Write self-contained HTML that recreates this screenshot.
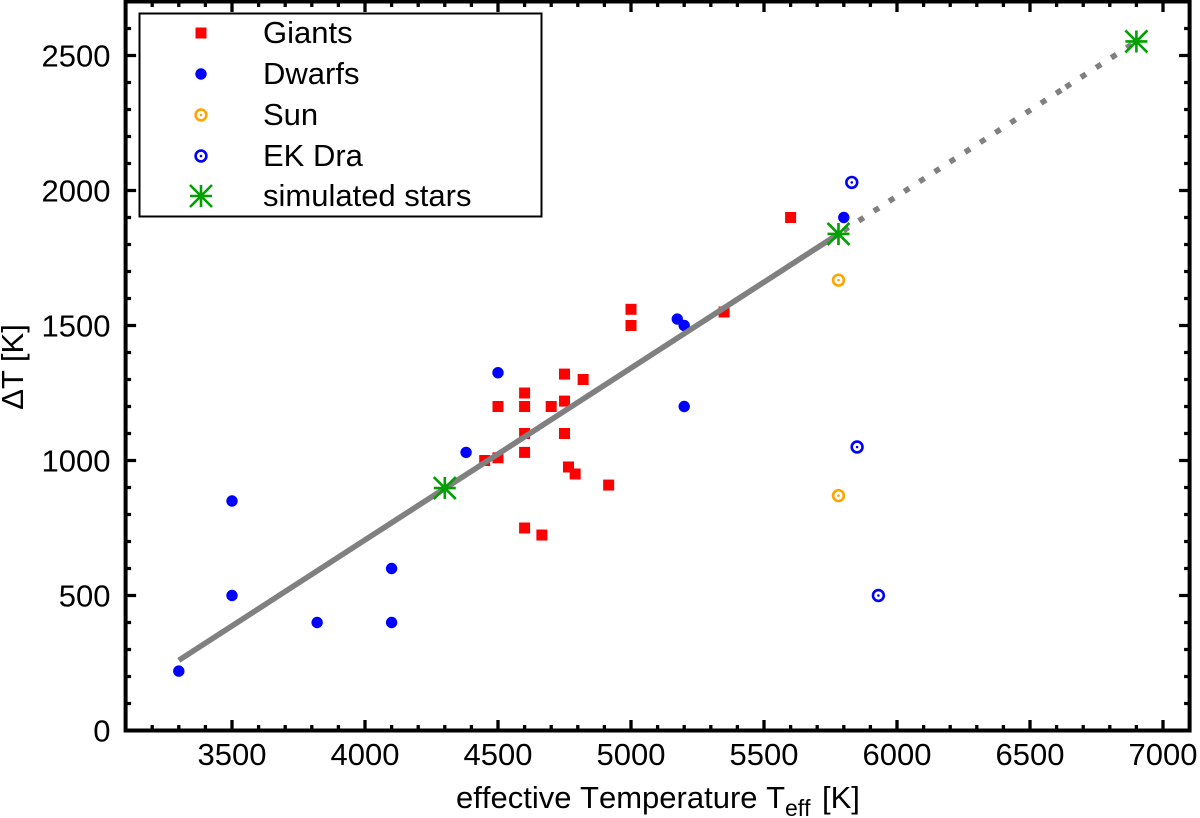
<!DOCTYPE html>
<html lang="en">
<head>
<meta charset="utf-8">
<title>Delta T vs effective temperature</title>
<style>
html,body{margin:0;padding:0;background:#fff}
svg{display:block}
text{font-family:"Liberation Sans",sans-serif;fill:#000;font-size:31px}
</style>
</head>
<body>
<svg id="chart" xmlns="http://www.w3.org/2000/svg" width="1200" height="818" viewBox="0 0 1200 818">
  <g id="ticks"></g>
  <g id="tick-labels"></g>
  <g id="marks"></g>
  <rect x="125.6" y="1.5" width="1064" height="729" fill="none" stroke="#000" stroke-width="4"/>
  <text x="456" y="808" style="font-kerning:none">effective Temperature T<tspan x="785" dy="8" style="font-size:23px">eff</tspan><tspan x="822" dy="-8">[K]</tspan></text>
  <text transform="translate(23,367) rotate(-90)" text-anchor="middle">ΔT [K]</text>
  <g>
    <rect x="139.5" y="13.5" width="402" height="203" fill="#fff" stroke="#000" stroke-width="2"/>
    <rect x="195.5" y="27.5" width="11" height="11" fill="#ff0000"/>
    <text x="263" y="43">Giants</text>
    <circle cx="201" cy="74" r="5.7" fill="#0000ff"/>
    <text x="263" y="84">Dwarfs</text>
    <circle cx="201" cy="115" r="5.4" fill="none" stroke="#ffa500" stroke-width="2.6"/>
    <circle cx="201" cy="115" r="1.3" fill="#ffa500"/>
    <text x="263" y="125">Sun</text>
    <circle cx="201" cy="156" r="5.4" fill="none" stroke="#0000ff" stroke-width="2.6"/>
    <circle cx="201" cy="156" r="1.3" fill="#0000ff"/>
    <text x="263" y="166">EK Dra</text>
    <path d="M190 196H212M201 185V207M190 185L212 207M190 207L212 185" stroke="#00a000" stroke-width="2.6" fill="none"/>
    <text x="263" y="206">simulated stars</text>
  </g>
</svg>
<script>
var xMajorTicks = [3500, 4000, 4500, 5000, 5500, 6000, 6500, 7000];
var yMajorTicks = [0, 500, 1000, 1500, 2000, 2500];
var giantsTeff = [5000, 5000, 4750, 4820, 4600, 4500, 4600, 4700, 4750, 4750, 4600, 4600, 4500, 4450, 4765, 4790, 4916, 4600, 4665, 5600, 5350];
var giantsDT = [1560, 1500, 1320, 1300, 1250, 1200, 1200, 1200, 1220, 1100, 1100, 1030, 1010, 1000, 976, 950, 909, 750, 724, 1900, 1550];
var dwarfsTeff = [3300, 3500, 3500, 3820, 4100, 4100, 4500, 4380, 5174, 5200, 5200, 5800];
var dwarfsDT = [220, 850, 500, 400, 600, 400, 1325, 1030, 1524, 1500, 1200, 1900];
var sunTeff = [5780, 5780];
var sunDT = [1668, 870];
var ekDraTeff = [5830, 5850, 5930];
var ekDraDT = [2030, 1050, 500];
var simulatedTeff = [4300, 5780, 6900];
var simulatedDT = [898, 1839, 2552];
var fitTeff = [3300, 5780];
var fitDT = [260, 1839];
var extrapolatedTeff = [5780, 6627, 6900];
var extrapolatedDT = [1839, 2378, 2552];

var NS = 'http://www.w3.org/2000/svg';
function xScale(t) { return 232 + (t - 3500) * 0.266; }
function yScale(v) { return 730.5 - v * 0.27; }
function make(tag, attrs, parent) {
  var el = document.createElementNS(NS, tag);
  for (var k in attrs) el.setAttribute(k, attrs[k]);
  parent.appendChild(el);
  return el;
}
var ticksG = document.getElementById('ticks');
var labelsG = document.getElementById('tick-labels');
var marksG = document.getElementById('marks');
var el, i, t, len;

for (t = 3100; t <= 7100; t += 100) {
  len = xMajorTicks.indexOf(t) >= 0 ? 10.5 : 5.5;
  el = make('path', {d: 'M' + xScale(t) + ' 730.5V' + (730.5 - len) + 'M' + xScale(t) + ' 1.5V' + (1.5 + len), stroke: '#000', 'stroke-width': 3.3, fill: 'none'}, ticksG);
  
  
}
for (t = 0; t <= 2700; t += 100) {
  len = yMajorTicks.indexOf(t) >= 0 ? 10.5 : 5.5;
  el = make('path', {d: 'M125.6 ' + yScale(t) + 'H' + (125.6 + len) + 'M1189.6 ' + yScale(t) + 'H' + (1189.6 - len), stroke: '#000', 'stroke-width': 3.3, fill: 'none'}, ticksG);
  
  
}
xMajorTicks.forEach(function (v) {
  var lab = make('text', {x: xScale(v), y: 765, 'text-anchor': 'middle'}, labelsG);
  lab.textContent = String(v);
  
  
});
yMajorTicks.forEach(function (v) {
  var lab = make('text', {x: 110.5, y: yScale(v) + 11, 'text-anchor': 'end'}, labelsG);
  lab.textContent = String(v);
  
  
});

for (i = 0; i < giantsTeff.length; i++) {
  el = make('rect', {x: xScale(giantsTeff[i]) - 5.5, y: yScale(giantsDT[i]) - 5.5, width: 11, height: 11, fill: '#ff0000'}, marksG);
  
  
}
for (i = 0; i < dwarfsTeff.length; i++) {
  el = make('circle', {cx: xScale(dwarfsTeff[i]), cy: yScale(dwarfsDT[i]), r: 5.7, fill: '#0000ff'}, marksG);
  
  
}
function ring(ts, vs, color, name) {
  for (var j = 0; j < ts.length; j++) {
    var c = make('circle', {cx: xScale(ts[j]), cy: yScale(vs[j]), r: 5.4, fill: 'none', stroke: color, 'stroke-width': 2.6}, marksG);
    
    
    var d = make('circle', {cx: xScale(ts[j]), cy: yScale(vs[j]), r: 1.3, fill: color}, marksG);
    
    
  }
}
ring(sunTeff, sunDT, '#ffa500', 'sun-point');
ring(ekDraTeff, ekDraDT, '#0000ff', 'ek-dra-point');

function linePath(ts, vs) {
  return ts.map(function (v, j) { return (j ? 'L' : 'M') + xScale(v) + ' ' + yScale(vs[j]); }).join('');
}
for (i = 0; i + 1 < extrapolatedTeff.length; i++) {
  el = make('path', {d: linePath(extrapolatedTeff.slice(i, i + 2), extrapolatedDT.slice(i, i + 2)), fill: 'none', stroke: '#808080', 'stroke-width': 5.6, 'stroke-dasharray': '6 12.08', 'stroke-dashoffset': i === 0 ? -6 : -2.3}, marksG);
  
  
}
el = make('path', {d: linePath(fitTeff, fitDT), fill: 'none', stroke: '#808080', 'stroke-width': 5.6}, marksG);



for (i = 0; i < simulatedTeff.length; i++) {
  var sx = xScale(simulatedTeff[i]), sy = yScale(simulatedDT[i]);
  el = make('path', {d: 'M' + (sx - 11) + ' ' + sy + 'H' + (sx + 11) + 'M' + sx + ' ' + (sy - 11) + 'V' + (sy + 11) + 'M' + (sx - 11) + ' ' + (sy - 11) + 'L' + (sx + 11) + ' ' + (sy + 11) + 'M' + (sx - 11) + ' ' + (sy + 11) + 'L' + (sx + 11) + ' ' + (sy - 11), fill: 'none', stroke: '#00a000', 'stroke-width': 2.6}, marksG);
  
  
}
</script>
</body>
</html>
